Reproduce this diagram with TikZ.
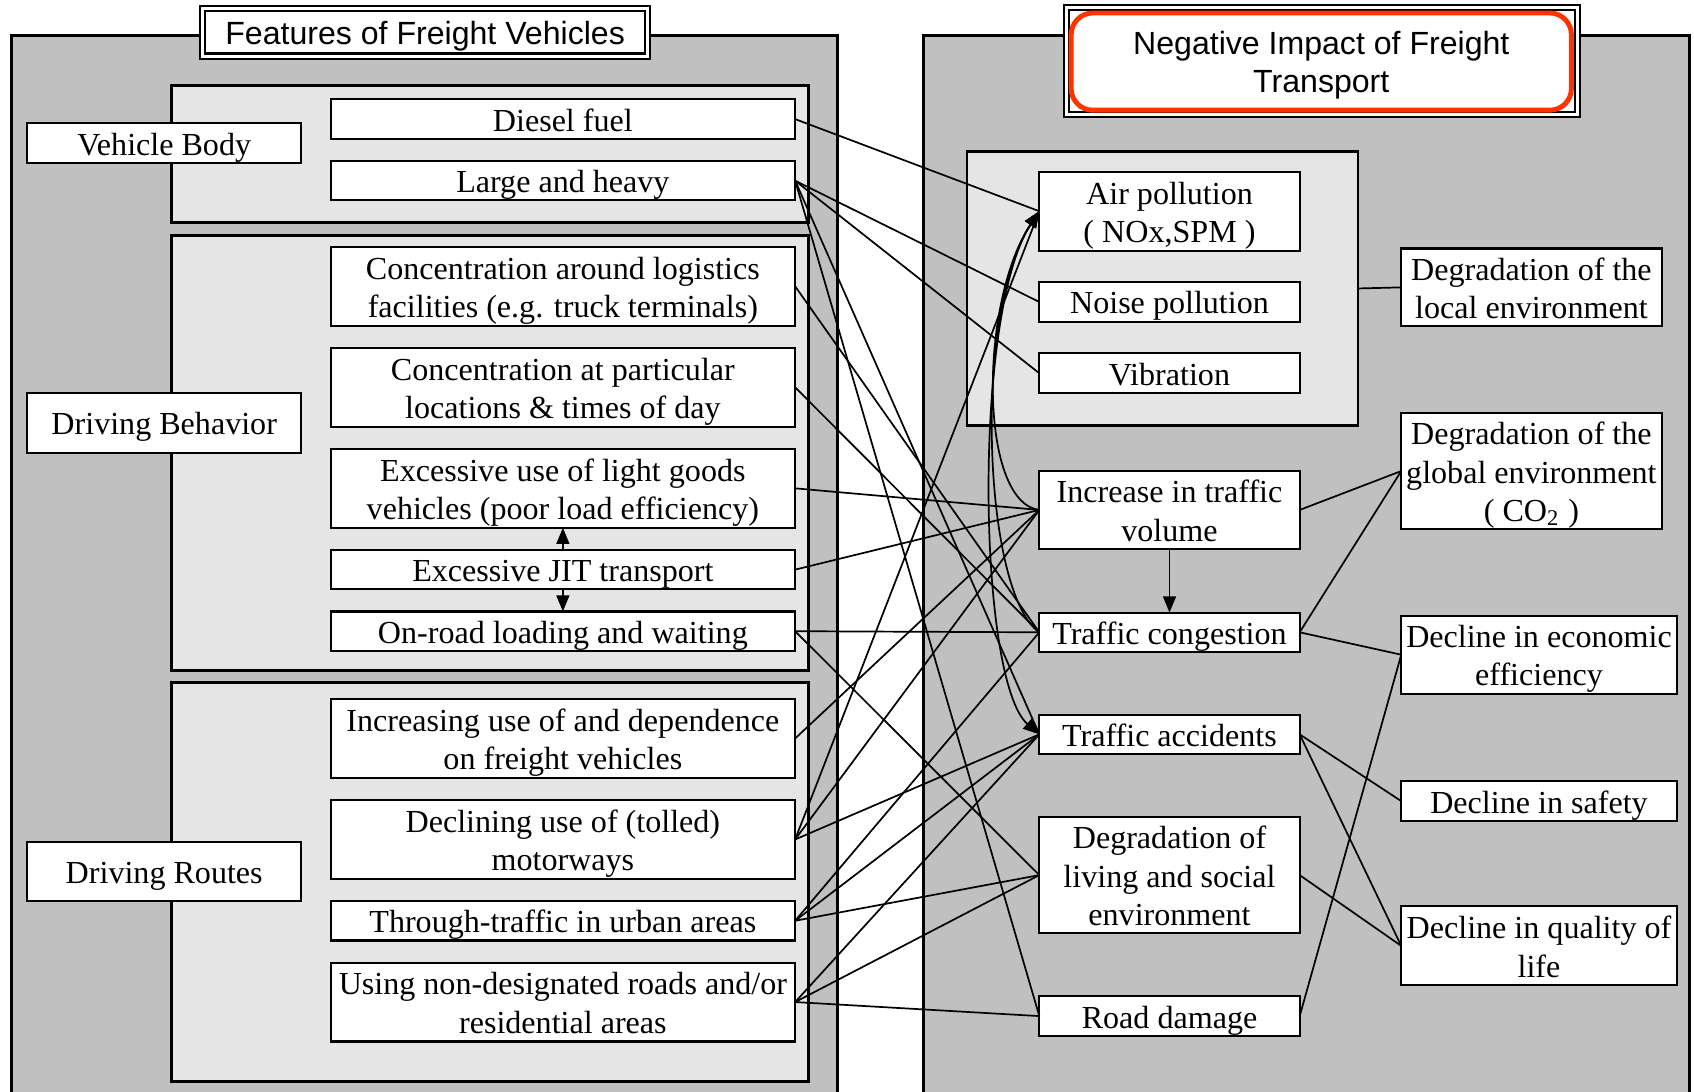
\documentclass[tikz,border=0pt]{standalone}
\usepackage{fontspec}
\setmainfont{Liberation Serif}
\newfontfamily\headfont{Liberation Sans}
\usepackage{tikz}
\usetikzlibrary{positioning}
\usetikzlibrary{shapes.geometric, arrows.meta}
\definecolor{panelgray}{RGB}{192,192,192}
\definecolor{boxgray}{RGB}{229,229,229}
\definecolor{titlered}{RGB}{255,51,0}
\tikzstyle{arrow} = [line width=0.45pt,->,>={Triangle[length=0.15cm,width=0.12cm]}]
\tikzstyle{link} = [line width=0.45pt]
\tikzstyle{panel} = [draw,line width=0.75pt,fill=panelgray]
\tikzstyle{groupbox} = [draw,line width=0.75pt,fill=boxgray,inner sep=0pt,outer sep=0pt]
\tikzstyle{item} = [draw,line width=0.55pt,fill=white,inner sep=0pt,outer sep=0pt,align=center,font=\fontsize{8.45}{10.1}\selectfont]
% struts per number of text lines
\tikzstyle{one} = [minimum height=0.365cm,execute at begin node={\rule{0pt}{8.2pt}},execute at end node={\rule[-1.9pt]{0pt}{1.9pt}}]
\tikzstyle{two} = [minimum height=0.73cm,execute at begin node={\rule{0pt}{18.3pt}},execute at end node={\rule[-1.9pt]{0pt}{1.9pt}}]
\tikzstyle{three} = [minimum height=1.08cm,execute at begin node={\rule{0pt}{28.4pt}},execute at end node={\rule[-1.9pt]{0pt}{1.9pt}}]
\tikzstyle{feat} = [item,minimum width=4.30cm]
\tikzstyle{impact} = [item,minimum width=2.41cm]
\tikzstyle{cons} = [item,anchor=west]

\begin{document}
\begin{tikzpicture}
						\useasboundingbox (0,0) rectangle (15.68,-10.10);
						\clip (0,0) rectangle (15.68,-10.10);
						
						%Panels
						\draw[panel] (0.11,-0.33) rectangle (7.75,-10.4);
						\draw[panel] (8.55,-0.33) rectangle (15.64,-10.4);
						\draw[groupbox] (1.59,-0.79) rectangle (7.48,-2.06);
						\draw[groupbox] (1.59,-2.18) rectangle (7.48,-6.21);
						\draw[groupbox] (1.59,-6.32) rectangle (7.48,-10.01);
						\node[groupbox,minimum width=3.62cm,minimum height=2.54cm] (envbox) at (10.76,-2.67) {};
						
						%Titles
						\node[draw,double,double distance=0.8pt,line width=0.6pt,fill=white,minimum width=4.12cm,inner sep=0pt,one,minimum height=0.44cm,font=\headfont\fontsize{8.45}{10.1}\selectfont] (ttl) at (3.935,-0.30) {Features of Freight Vehicles};
						\draw[double,double distance=0.8pt,line width=0.6pt,fill=white] (9.87,-0.07) rectangle (14.60,-1.06);
						\node[draw=titlered,line width=1.3pt,rounded corners=0.2cm,fill=white,minimum width=4.63cm,inner sep=0pt,align=center,two,minimum height=0.90cm,font=\headfont\fontsize{8.45}{10.1}\selectfont] (ttr) at (12.23,-0.57) {Negative Impact of Freight\\Transport};
						
						%Nodes
						\node[item,one,minimum width=2.54cm,minimum height=0.37cm] (body) at (1.52,-1.325) {Vehicle Body};
						\node[item,one,minimum width=2.54cm,minimum height=0.55cm] (behav) at (1.52,-3.915) {Driving Behavior};
						\node[item,one,minimum width=2.54cm,minimum height=0.55cm] (routes) at (1.52,-8.065) {Driving Routes};
						
						\node[feat,one] (diesel) at (5.21,-1.1025) {Diesel fuel};
						\node[feat,one,below=0.205cm of diesel] (large) {Large and heavy};
						\node[feat,two,below=0.43cm of large] (conc1) {Concentration around logistics\\facilities (e.g. truck terminals)};
						\node[feat,two,below=0.205cm of conc1] (conc2) {Concentration at particular\\locations \& times of day};
						\node[feat,two,below=0.205cm of conc2] (light) {Excessive use of light goods\\vehicles (poor load efficiency)};
						\node[feat,one,below=0.205cm of light] (jit) {Excessive JIT transport};
						\node[feat,one,below=0.205cm of jit] (onroad) {On-road loading and waiting};
						\node[feat,two,below=0.445cm of onroad] (incuse) {Increasing use of and dependence\\on freight vehicles};
						\node[feat,two,below=0.205cm of incuse] (decl) {Declining use of (tolled)\\motorways};
						\node[feat,one,below=0.205cm of decl] (through) {Through-traffic in urban areas};
						\node[feat,two,below=0.205cm of through] (using) {Using non-designated roads and/or\\residential areas};
						
						\node[impact,two] (air) at (10.825,-1.955) {Air pollution\\( NOx,SPM )};
						\node[impact,one,minimum height=0.37cm,below=0.29cm of air] (noise) {Noise pollution};
						\node[impact,one,minimum height=0.37cm,below=0.29cm of noise] (vib) {Vibration};
						\node[impact,two,minimum height=0.72cm,below=0.72cm of vib] (incr) {Increase in traffic\\volume};
						\node[impact,one,below=0.59cm of incr] (cong) {Traffic congestion};
						\node[impact,one,below=0.58cm of cong] (acc) {Traffic accidents};
						\node[impact,three,below=0.58cm of acc] (living) {Degradation of\\living and social\\environment};
						\node[impact,one,minimum height=0.37cm,below=0.58cm of living] (road) {Road damage};
						
						\node[cons,two,minimum width=2.41cm,minimum height=0.72cm] (dloc) at (12.97,-2.66) {Degradation of the\\local environment};
						\node[cons,three,minimum width=2.41cm] (dglob) at (12.97,-4.36) {Degradation of the\\global environment\\( CO\textsubscript{2} )};
						\node[cons,two,minimum width=2.55cm,minimum height=0.72cm] (econ) at (12.97,-6.06) {Decline in economic\\efficiency};
						\node[cons,one,minimum width=2.55cm,minimum height=0.37cm] (safe) at (12.97,-7.415) {Decline in safety};
						\node[cons,two,minimum width=2.55cm] (qol) at (12.97,-8.755) {Decline in quality of\\life};
						
						%Lines
						\draw[arrow] (jit.north) -- (light.south);
						\draw[arrow] (jit.south) -- (onroad.north);
						\draw[arrow] (incr.south) -- (cong.north);
						
						\draw[link] (diesel.east) -- (air.west);
						\draw[link] (large.east) -- (noise.west);
						\draw[link] (large.east) -- (vib.west);
						\draw[link] (large.east) -- (acc.west);
						\draw[link] (large.east) -- (road.west);
						\draw[link] (conc1.east) -- (cong.west);
						\draw[link] (conc2.east) -- (cong.west);
						\draw[link] (light.east) -- (incr.west);
						\draw[link] (jit.east) -- (incr.west);
						\draw[link] (onroad.east) -- (cong.west);
						\draw[link] (onroad.east) -- (living.west);
						\draw[link] (incuse.east) -- (incr.west);
						\draw[link] (decl.east) -- (air.west);
						\draw[link] (decl.east) -- (incr.west);
						\draw[link] (decl.east) -- (acc.west);
						\draw[link] (through.east) -- (cong.west);
						\draw[link] (through.east) -- (acc.west);
						\draw[link] (through.east) -- (living.west);
						\draw[link] (using.east) -- (acc.west);
						\draw[link] (using.east) -- (living.west);
						\draw[link] (using.east) -- (road.west);
						
						\draw[arrow] (incr.west) .. controls (9.06,-4.65) and (9.06,-2.8) .. (air.west);
						\draw[arrow] (cong.west) .. controls (9.10,-5.5) and (9.0,-2.9) .. (air.west);
						\draw[arrow,<->] (air.west) .. controls (9.0,-2.9) and (9.05,-6.3) .. (acc.west);
						
						\draw[link] (envbox.east) -- (dloc.west);
						\draw[link] (incr.east) -- (dglob.west);
						\draw[link] (cong.east) -- (dglob.west);
						\draw[link] (cong.east) -- (econ.west);
						\draw[link] (road.east) -- (econ.west);
						\draw[link] (acc.east) -- (safe.west);
						\draw[link] (acc.east) -- (qol.west);
						\draw[link] (living.east) -- (qol.west);
					\end{tikzpicture}
\end{document}
